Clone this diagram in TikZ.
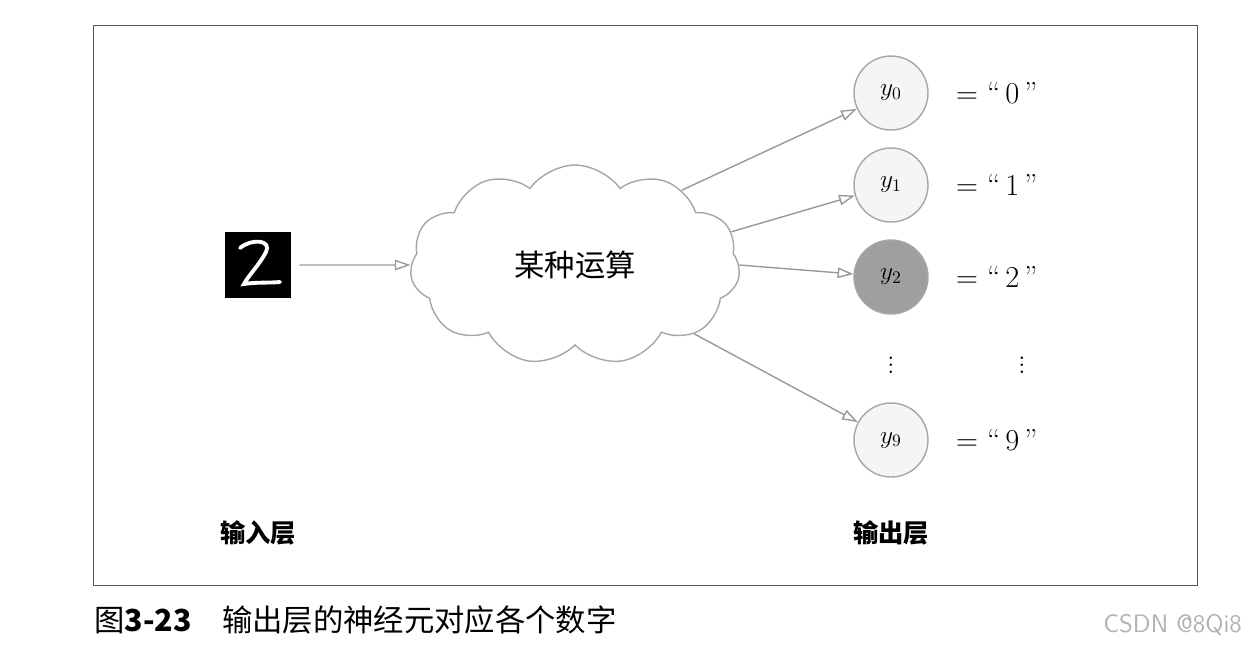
\documentclass[tikz,border=0pt]{standalone}
\usepackage{fontspec}
\newfontfamily\cjk{Noto Sans CJK SC}
\usetikzlibrary{shapes.symbols,arrows.meta,positioning,calc}

\begin{document}
\begin{tikzpicture}[x=0.02cm,y=-0.02cm,
    arr/.style={draw=gray!80,thick,-{Triangle[open,length=9pt,width=6pt]}},
    neuron/.style={circle,draw=gray!70,thick,fill=gray!8,minimum size=1.48cm,inner sep=0pt,font=\Large},
    lab/.style={font=\LARGE},
    layer/.style={font=\cjk\Large\bfseries}]
    \useasboundingbox (0,0) rectangle (1250,647);
    % frame
    \draw[gray!70!black] (93,25) rectangle (1197,585);

    % input image
    \node[fill=black,minimum size=1.32cm,inner sep=0pt] (img) at (258,265) {};
    \draw[white,line width=2.2pt,line cap=round]
        (240,248) .. controls (252,238) and (272,240) .. (266,252)
        .. controls (260,264) and (248,276) .. (244,284)
        .. controls (256,282) and (270,283) .. (280,282);

    % cloud
    \node[cloud,cloud puffs=11,cloud puff arc=110,aspect=1.9,draw=gray!70,thick,
          minimum width=6.6cm,minimum height=4cm] (cloud) at (575,265)
          {\cjk\LARGE 某种运算};
    \draw[arr] (img.east) ++(8,0) -- (cloud.west);

    % output neurons
    \node[neuron] (y0) at (891,93) {$y_0$};
    \node[neuron] (y1) at (891,185) {$y_1$};
    \node[neuron,fill=gray!75] (y2) at (891,277) {$y_2$};
    \node[neuron] (y9) at (891,440) {$y_9$};
    \node[font=\LARGE,inner sep=0pt] (vd) at (891,360) {$\vdots$};

    \draw[arr] (cloud.35) -- (y0);
    \draw[arr] (cloud.12) -- (y1);
    \draw[arr] (cloud.east) -- (y2);
    \draw[arr] (cloud.-30) -- (y9);

    \node[lab,anchor=west] (l0) at (950,93) {= ``\,0\,''};
    \node[lab,anchor=west] (l1) at (950,185) {= ``\,1\,''};
    \node[lab,anchor=west] (l2) at (950,277) {= ``\,2\,''};
    \node[lab,anchor=west] (l9) at (950,440) {= ``\,9\,''};
    \node[font=\LARGE,inner sep=0pt] (vd2) at (1022,360) {$\vdots$};

    % layer names
    \node[layer] (inlayer) at (258,533) {输入层};
    \node[layer] (outlayer) at (891,533) {输出层};

    % caption
    \node[anchor=west,font=\cjk\LARGE] (cap) at (88,620) {图\textbf{3-23}\quad 输出层的神经元对应各个数字};
    \node[anchor=east,font=\sffamily\Large,text=gray!60] (src) at (1248,625) {CSDN @8Qi8};
\end{tikzpicture}
\end{document}
